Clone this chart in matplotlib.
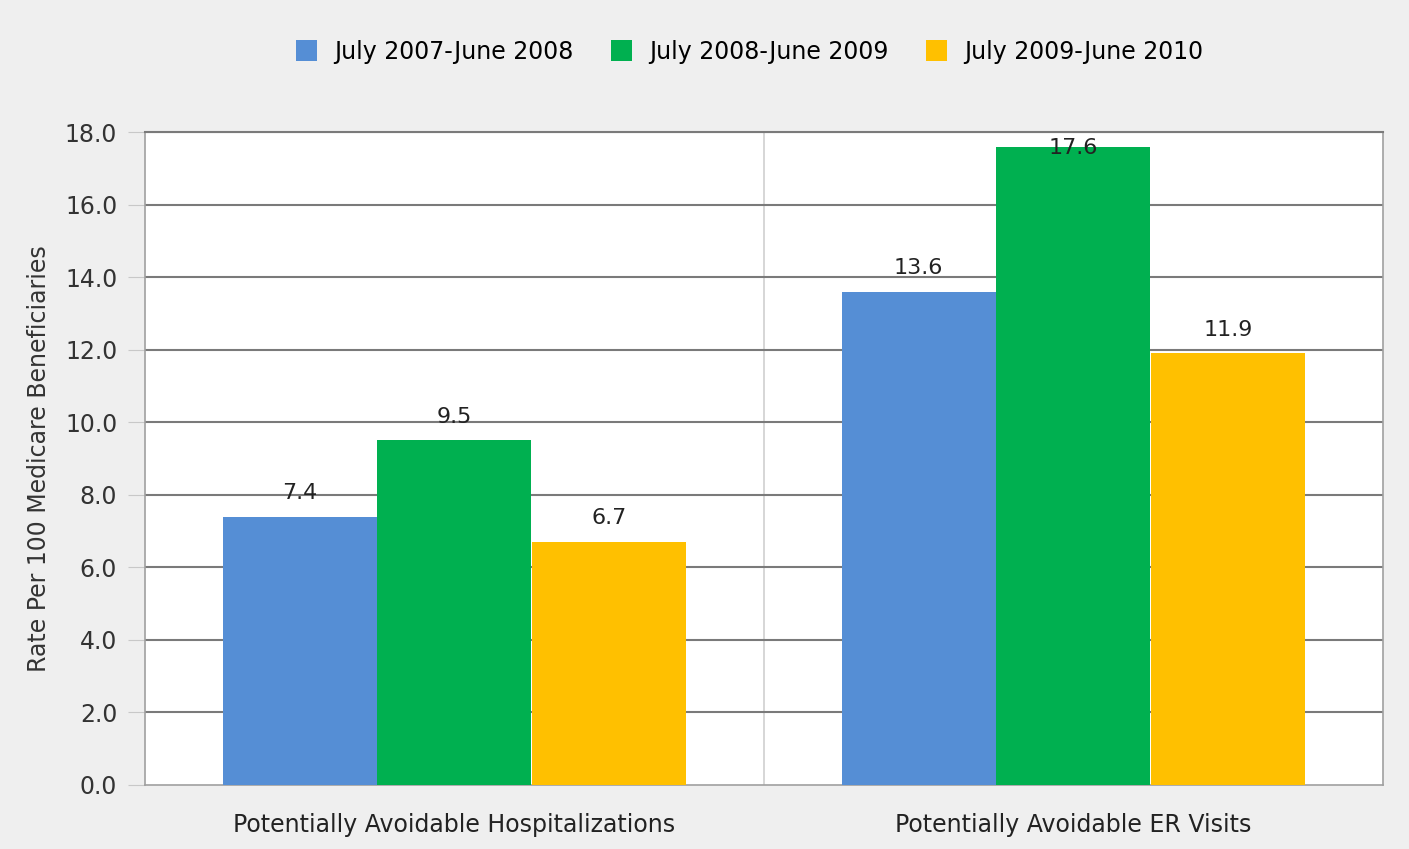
import matplotlib.pyplot as plt
import numpy as np

categories = ['Potentially Avoidable Hospitalizations', 'Potentially Avoidable ER Visits']
series = ['July 2007-June 2008', 'July 2008-June 2009', 'July 2009-June 2010']
values = [
    [7.4, 13.6],
    [9.5, 17.6],
    [6.7, 11.9],
]
colors = ['#558ed5', '#00b050', '#ffc000']
yticks = [0, 2, 4, 6, 8, 10, 12, 14, 16, 18]

fig = plt.figure(figsize=(14.09, 8.49), dpi=100, facecolor='#efefef')
ax = fig.add_axes([0.1029, 0.0754, 0.8786, 0.7691])
ax.set_facecolor('white')

x = np.arange(len(categories))
w = 0.25
for i, (name, vals, c) in enumerate(zip(series, values, colors)):
    pos = x + (i - 1) * w
    ax.bar(pos, vals, width=w * 0.995, color=c, label=name, zorder=3, edgecolor='none')
    for px, v in zip(pos, vals):
        ax.text(px, min(v + 0.65, 17.55), f'{v:.1f}', ha='center', va='center',
                fontsize=16, color='#222222', zorder=4)

ax.set_xlim(-0.5, 1.5)
ax.set_ylim(0, 18)
ax.set_yticks(yticks)
ax.set_yticklabels([f'{t:.1f}' for t in yticks], fontsize=17, color='#333333')
ax.set_xticks(x)
ax.set_xticklabels(categories, fontsize=17, color='#222222')
ax.tick_params(axis='x', length=0, pad=20)
ax.tick_params(axis='y', length=12, color='#c8c8c8', pad=8)

# horizontal grid lines
for t in yticks[1:]:
    ax.axhline(t, color='#7a7a7a', lw=1.5, zorder=2)
# category divider
ax.axvline(0.5, color='#cfcfcf', lw=1.2, zorder=1)

for s in ['left', 'right', 'bottom']:
    ax.spines[s].set_color('#a0a0a0')
    ax.spines[s].set_linewidth(1.2)
ax.spines['top'].set_color('#7a7a7a')
ax.spines['top'].set_linewidth(1.5)

ax.set_ylabel('Rate Per 100 Medicare Beneficiaries', fontsize=17, color='#333333', labelpad=10)

fig.legend(loc='upper center', bbox_to_anchor=(0.532, 0.978), ncol=3, frameon=False,
           fontsize=17, handlelength=0.9, handleheight=1.0, handletextpad=0.7,
           columnspacing=1.6)

fig.savefig('out.png', dpi=100, facecolor=fig.get_facecolor())
